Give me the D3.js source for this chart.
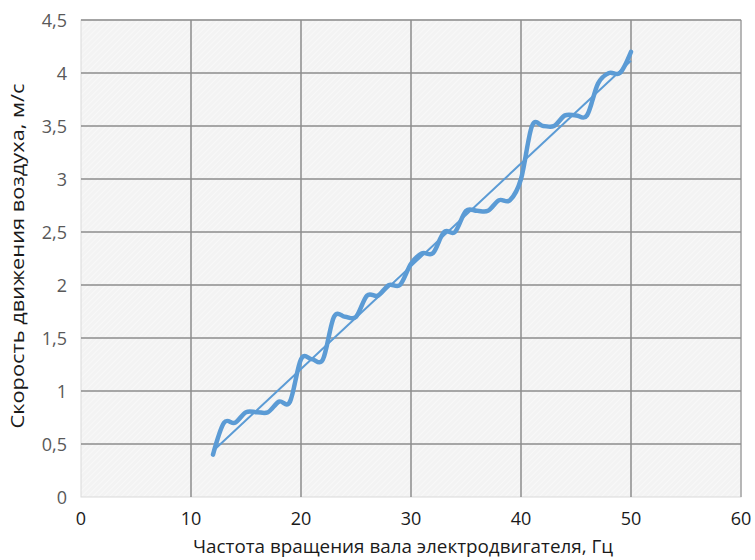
<!DOCTYPE html>
<html>
<head>
<meta charset="utf-8">
<script src="https://cdn.jsdelivr.net/npm/d3@7"></script>
<style>
  body { margin: 0; background: #ffffff; }
  svg text { font-family: "Open Sans", "Noto Sans", sans-serif; }
</style>
</head>
<body>
<script>
// measured points (Hz -> m/s)
const freq = [12,13,14,15,16,17,18,19,20,21,22,23,24,25,26,27,28,29,30,31,32,33,34,35,36,37,38,39,40,41,42,43,44,45,46,47,48,49,50];
const speed = [0.4,0.7,0.7,0.8,0.8,0.8,0.9,0.9,1.3,1.3,1.3,1.7,1.7,1.7,1.9,1.9,2.0,2.0,2.2,2.3,2.3,2.5,2.5,2.7,2.7,2.7,2.8,2.8,3.0,3.5,3.5,3.5,3.6,3.6,3.6,3.9,4.0,4.0,4.2];
const xTicks = [0,10,20,30,40,50,60];
const yTicks = [0,0.5,1,1.5,2,2.5,3,3.5,4,4.5];

const pts = freq.map((f,i) => ({x: f, y: speed[i]}));

const svg = d3.select("body").append("svg")
    .attr("width",755)
    .attr("height",560);

const x = d3.scaleLinear().domain([0,60]).range([81,741]);
const y = d3.scaleLinear().domain([0,4.5]).range([497,20]);

//hatched plot background
const defs = svg.append("defs");
const pat = defs.append("pattern")
    .attr("id","hatch")
    .attr("patternUnits","userSpaceOnUse")
    .attr("width",4).attr("height",4)
    .attr("patternTransform","rotate(45)");
pat.append("rect").attr("width",4).attr("height",4).attr("fill","#f3f3f3");
pat.append("line").attr("x1",0).attr("y1",0).attr("x2",0).attr("y2",4)
    .attr("stroke","#fafafa").attr("stroke-width",1.5);

svg.append("rect")
    .attr("x",x(0)).attr("y",y(4.5))
    .attr("width",x(60)-x(0)).attr("height",y(0)-y(4.5))
    .attr("fill","url(#hatch)")
    .attr("stroke","#d9d9d9");

//grid
svg.append("g").selectAll("line")
    .data(xTicks.filter(d => d > 0))
    .join("line")
    .attr("x1",d => x(d)).attr("x2",d => x(d))
    .attr("y1",y(4.5)).attr("y2",y(0))
    .attr("stroke",d => d == 60 ? "#a6a6a6" : "#8c8c8c")
    .attr("stroke-width",1.5);

svg.append("g").selectAll("line")
    .data(yTicks.filter(d => d > 0))
    .join("line")
    .attr("x1",x(0)).attr("x2",x(60))
    .attr("y1",d => y(d)).attr("y2",d => y(d))
    .attr("stroke","#8c8c8c")
    .attr("stroke-width",1.5);

//tick labels
svg.append("g").selectAll("text")
    .data(xTicks)
    .join("text")
    .attr("x",d => x(d))
    .attr("y",525)
    .attr("text-anchor","middle")
    .attr("font-size",18)
    .attr("fill","#1a1a1a")
    .text(d => d);

svg.append("g").selectAll("text")
    .data(yTicks)
    .join("text")
    .attr("x",67)
    .attr("y",d => y(d) + 6.5)
    .attr("text-anchor","end")
    .attr("font-size",18)
    .attr("fill","#595959")
    .text(d => String(d).replace(".",","));

//axis titles
svg.append("text")
    .attr("x",403).attr("y",553)
    .attr("text-anchor","middle")
    .attr("font-size",18.5)
    .attr("textLength",420)
    .attr("lengthAdjust","spacingAndGlyphs")
    .attr("fill","#1a1a1a")
    .text("Частота вращения вала электродвигателя, Гц");

svg.append("text")
    .attr("transform","translate(24,256) rotate(-90)")
    .attr("text-anchor","middle")
    .attr("font-size",19)
    .attr("textLength",345)
    .attr("lengthAdjust","spacingAndGlyphs")
    .attr("fill","#1a1a1a")
    .text("Скорость движения воздуха, м/с");

//linear trend
const mx = d3.mean(freq), my = d3.mean(speed);
const slope = d3.sum(pts, d => (d.x-mx)*(d.y-my)) / d3.sum(pts, d => (d.x-mx)*(d.x-mx));
const icpt = my - slope*mx;
const x0 = d3.min(freq), x1 = d3.max(freq);

svg.append("line")
    .attr("x1",x(x0)).attr("y1",y(icpt + slope*x0))
    .attr("x2",x(x1)).attr("y2",y(icpt + slope*x1))
    .attr("stroke","#5b9bd5")
    .attr("stroke-width",2);

//smoothed data line
const line = d3.line()
    .x(d => x(d.x))
    .y(d => y(d.y))
    .curve(d3.curveCatmullRom.alpha(0));

svg.append("path")
    .datum(pts)
    .attr("d",line)
    .attr("fill","none")
    .attr("stroke","#5b9bd5")
    .attr("stroke-width",4.5)
    .attr("stroke-linecap","round")
    .attr("stroke-linejoin","round");
</script>
</body>
</html>
